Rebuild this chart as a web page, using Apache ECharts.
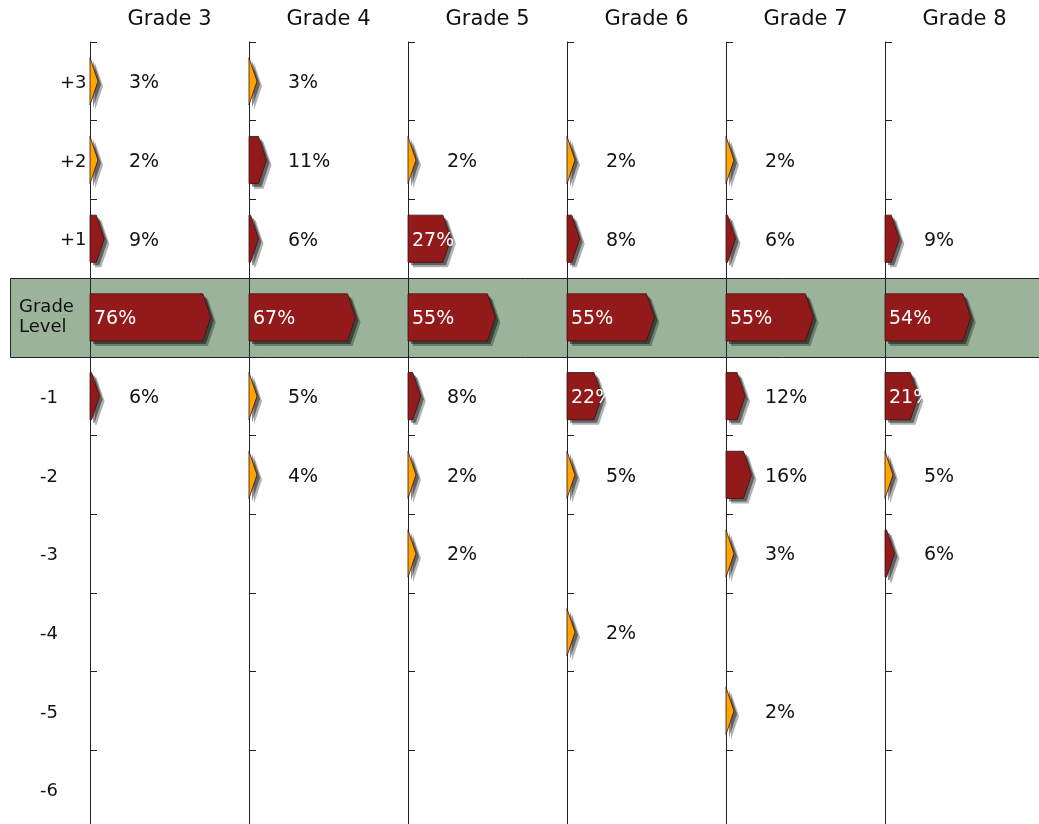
<!DOCTYPE html>
<html>
<head>
<meta charset="utf-8">
<script src="https://cdn.jsdelivr.net/npm/echarts@6/dist/echarts.min.js"></script>
<style>
html,body{margin:0;padding:0;background:#fff;}
#chart{width:1039px;height:824px;}
</style>
</head>
<body>
<div id="chart"></div>
<script>
// rows top to bottom
const levels = ['+3', '+2', '+1', 'Grade Level', '-1', '-2', '-3', '-4', '-5', '-6'];
const grades = ['Grade 3', 'Grade 4', 'Grade 5', 'Grade 6', 'Grade 7', 'Grade 8'];

// percent of students at each level, null = no bar
const grade3 = [3, 2, 9, 76, 6, null, null, null, null, null];
const grade4 = [3, 11, 6, 67, 5, 4, null, null, null, null];
const grade5 = [null, 2, 27, 55, 8, 2, 2, null, null, null];
const grade6 = [null, 2, 8, 55, 22, 5, null, 2, null, null];
const grade7 = [null, 2, 6, 55, 12, 16, 3, null, 2, null];
const grade8 = [null, null, 9, 54, 21, 5, 6, null, null, null];
const allGrades = [grade3, grade4, grade5, grade6, grade7, grade8];

const RED = '#921a1a';
const ORANGE = '#ffa500';
const FONT = "'DejaVu Sans', Verdana, sans-serif";

const colLeft = 90, colWidth = 159, gridTop = 42, gridHeight = 787;

let chart = echarts.init(document.getElementById('chart'));

const renderArrow = (params, api) => {
    let v = api.value(0);
    let row = api.value(1);
    let start = api.coord([0, row]);
    let end = api.coord([v, row]);
    let h = api.size([0, 1])[1] * 0.6;
    let x0 = start[0];
    let w = Math.max(end[0] - x0, 8);
    let tip = Math.min(8, w);
    let y = start[1];
    let pts = [
        [x0, y - h / 2],
        [x0 + w - tip, y - h / 2],
        [x0 + w, y],
        [x0 + w - tip, y + h / 2],
        [x0, y + h / 2]
    ];
    let color = v >= 6 ? RED : ORANGE;
    let inside = v >= 20;
    return {
        type: 'group',
        children: [
            {
                type: 'polygon',
                shape: { points: pts.map(p => [p[0] + 5, p[1] + 5]) },
                style: { fill: 'rgba(0,0,0,0.3)' }
            },
            {
                type: 'polygon',
                shape: { points: pts.map(p => [p[0] + 3, p[1] + 3]) },
                style: { fill: 'rgba(0,0,0,0.45)' }
            },
            {
                type: 'polygon',
                shape: { points: pts },
                style: { fill: color, stroke: '#3a1010', lineWidth: 0.8 }
            },
            {
                type: 'text',
                x: inside ? x0 + 4 : x0 + 39,
                y: y + 2,
                style: {
                    text: v + '%',
                    fill: inside ? '#fff' : '#111',
                    font: '19px ' + FONT,
                    verticalAlign: 'middle',
                    align: 'left'
                }
            }
        ]
    };
};

let grid = [], xAxis = [], yAxis = [], series = [];
grades.forEach((g, i) => {
    grid.push({
        left: colLeft + i * colWidth,
        top: gridTop,
        width: colWidth,
        height: gridHeight,
        containLabel: false,
        outerBoundsMode: 'none'
    });
    xAxis.push({
        gridIndex: i,
        type: 'value',
        min: 0,
        max: 100,
        position: 'top',
        name: g,
        nameLocation: 'middle',
        nameGap: 12,
        nameTextStyle: { color: '#111', fontSize: 21, fontFamily: FONT },
        axisLine: { show: false },
        axisTick: { show: false },
        axisLabel: { show: false },
        splitLine: { show: false }
    });
    yAxis.push({
        gridIndex: i,
        type: 'category',
        data: levels,
        inverse: true,
        axisLine: { show: true, lineStyle: { color: '#222', width: 1 } },
        axisTick: { show: true, inside: true, length: 7, lineStyle: { color: '#222' } },
        splitLine: { show: false },
        axisLabel: {
            show: i === 0,
            align: 'left',
            margin: 71,
            color: '#111',
            fontFamily: FONT,
            fontSize: 18,
            formatter: (val) => {
                if (val === 'Grade Level') return '{gl|Grade}\n{gl|Level}';
                if (val[0] === '+') return '{pos|' + val + '}';
                return '{neg|' + val + '}';
            },
            rich: {
                pos: { fontSize: 18, fontFamily: FONT, color: '#111', padding: [4, 0, 0, 41] },
                neg: { fontSize: 18, fontFamily: FONT, color: '#111', padding: [4, 0, 0, 21] },
                gl: { fontSize: 18, fontFamily: FONT, color: '#111', lineHeight: 20 }
            }
        }
    });
    let data = [];
    allGrades[i].forEach((v, r) => {
        if (v !== null) data.push([v, r]);
    });
    series.push({
        type: 'custom',
        xAxisIndex: i,
        yAxisIndex: i,
        renderItem: renderArrow,
        data: data,
        z: 5
    });
});

chart.setOption({
    animation: false,
    grid: grid,
    xAxis: xAxis,
    yAxis: yAxis,
    series: series
});

// green band behind the "Grade Level" row
let bandTop = chart.convertToPixel({ yAxisIndex: 0 }, 'Grade Level');
let rowH = gridHeight / levels.length;
chart.setOption({
    graphic: [{
        type: 'rect',
        z: -10,
        shape: { x: 10.5, y: Math.round(bandTop - rowH / 2) + 0.5, width: 1040, height: Math.round(rowH) },
        style: { fill: '#9bb39b', stroke: '#222', lineWidth: 1 }
    }]
});
</script>
</body>
</html>
